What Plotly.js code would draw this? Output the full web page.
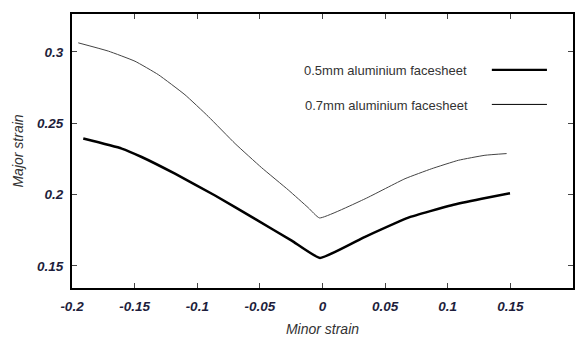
<!DOCTYPE html>
<html>
<head>
<meta charset="utf-8">
<script src="https://cdn.plot.ly/plotly-3.0.1.min.js"></script>
<style>html,body{margin:0;padding:0;background:#fff;}#chart{width:579px;height:338px;}</style>
</head>
<body>
<div id="chart"></div>
<script>
// 0.5mm aluminium facesheet (thick line)
const minor05 = [-0.191, -0.1603, -0.1444, -0.1178, -0.0858, -0.0539, -0.0246, -0.002, 0.034, 0.0686, 0.1032, 0.1271, 0.1497];
const major05 = [0.2392, 0.2322, 0.2263, 0.2146, 0.1993, 0.1829, 0.1677, 0.1556, 0.1704, 0.1838, 0.1925, 0.197, 0.2009];
// 0.7mm aluminium facesheet (thin line)
const minor07 = [-0.195, -0.171, -0.1497, -0.1311, -0.1098, -0.0912, -0.0698, -0.0486, -0.0273, -0.0113, -0.0024, 0.034, 0.0659, 0.0872, 0.1085, 0.1297, 0.147];
const major07 = [0.3063, 0.3005, 0.2934, 0.284, 0.2699, 0.2547, 0.2357, 0.2188, 0.2032, 0.1907, 0.1836, 0.197, 0.2111, 0.2181, 0.224, 0.2275, 0.2287];
const xTickVals = [-0.2, -0.15, -0.1, -0.05, 0, 0.05, 0.1, 0.15, 0.2];
const xTickText = ["-0.2", "-0.15", "-0.1", "-0.05", "0", "0.05", "0.1", "0.15", "0.2"];
const yTickVals = [0.15, 0.2, 0.25, 0.3];
const yTickText = ["0.15", "0.2", "0.25", "0.3"];
const seriesNames = ["0.5mm aluminium facesheet", "0.7mm aluminium facesheet"];

const tickFont = {family: "Liberation Sans, Arial, sans-serif", size: 13.5, color: "#1e1e3c", weight: "bold", style: "italic"};
const traces = [
  {x: minor05, y: major05, mode: "lines", name: seriesNames[0], line: {color: "#000", width: 2.5, shape: "spline", smoothing: 0.4}, showlegend: false},
  {x: minor07, y: major07, mode: "lines", name: seriesNames[1], line: {color: "#444", width: 1, shape: "spline", smoothing: 0.4}, showlegend: false}
];
const layout = {
  width: 579, height: 338,
  margin: {l: 72, r: 6, t: 14, b: 50},
  paper_bgcolor: "#fff", plot_bgcolor: "#fff",
  xaxis: {
    range: [-0.2, 0.2], tickvals: xTickVals, ticktext: xTickText,
    ticks: "inside", ticklen: 5, tickcolor: "#444", showgrid: false, zeroline: false,
    showline: true, linewidth: 2, linecolor: "#000", mirror: "ticks",
    tickfont: tickFont, ticklabelstandoff: 5,
    title: {text: "Minor strain", font: {family: "Liberation Sans, Arial, sans-serif", size: 14, color: "#333", style: "italic"}, standoff: 11}
  },
  yaxis: {
    range: [0.1345, 0.3265], tickvals: yTickVals, ticktext: yTickText,
    ticks: "inside", ticklen: 5, tickcolor: "#444", showgrid: false, zeroline: false,
    showline: true, linewidth: 2, linecolor: "#000", mirror: "ticks",
    tickfont: tickFont, ticklabelstandoff: 4,
    title: {text: "Major strain", font: {family: "Liberation Sans, Arial, sans-serif", size: 14, color: "#333", style: "italic"}, standoff: 10}
  },
  annotations: [
    {xref: "paper", yref: "paper", x: 0.46, y: 0.795, xanchor: "left", yanchor: "middle", showarrow: false, text: seriesNames[0], font: {family: "Liberation Sans, Arial, sans-serif", size: 13, color: "#333"}},
    {xref: "paper", yref: "paper", x: 0.462, y: 0.667, xanchor: "left", yanchor: "middle", showarrow: false, text: seriesNames[1], font: {family: "Liberation Sans, Arial, sans-serif", size: 13, color: "#333"}}
  ],
  shapes: [
    {type: "line", xref: "paper", yref: "paper", x0: 0.838, x1: 0.948, y0: 0.796, y1: 0.796, line: {color: "#000", width: 2.2}},
    {type: "line", xref: "paper", yref: "paper", x0: 0.838, x1: 0.948, y0: 0.67, y1: 0.67, line: {color: "#000", width: 1}}
  ]
};
Plotly.newPlot("chart", traces, layout, {staticPlot: true, displayModeBar: false});
</script>
</body>
</html>
